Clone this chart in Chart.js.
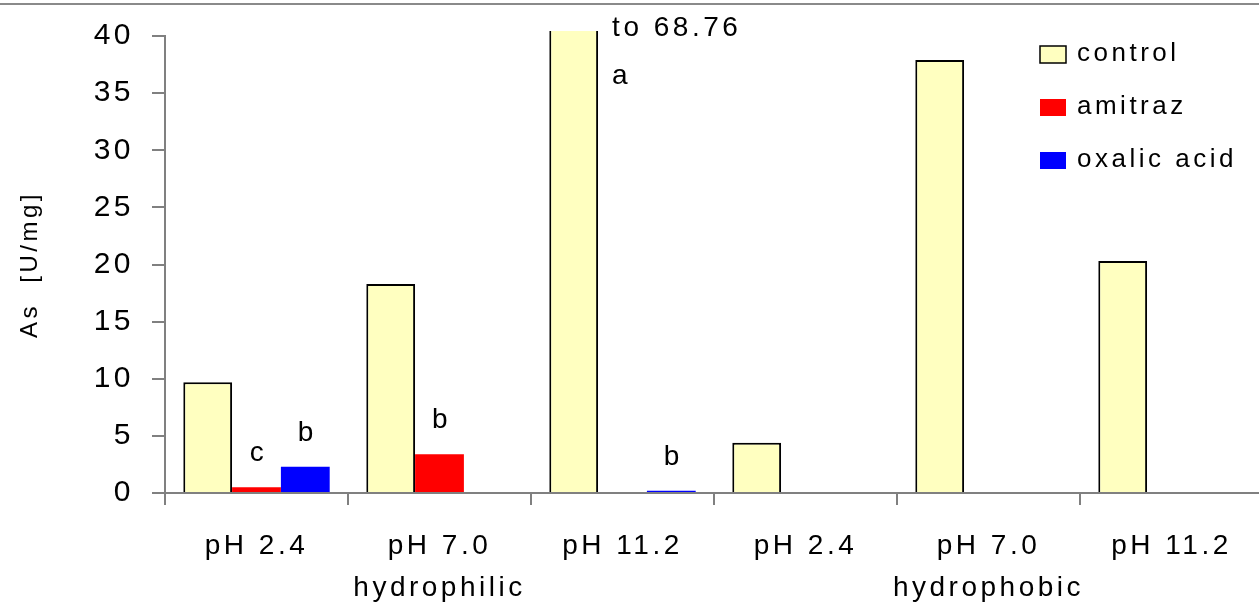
<!DOCTYPE html>
<html>
<head>
<meta charset="utf-8">
<script src="https://cdn.jsdelivr.net/npm/chart.js@4.4.0/dist/chart.umd.min.js"></script>
<style>
    html, body { margin: 0; padding: 0; background: #fff; overflow: hidden; }
    #wrap { position: relative; width: 1259px; height: 604px; overflow: hidden; }
    #grafico { position: absolute; left: 0; top: 0; }
    #lineaSup { position: absolute; left: 0; top: 3px; width: 1259px; height: 2px; background: #8a8a8a; }
</style>
</head>
<body>
<div id="wrap">
    <canvas id="grafico" width="1263" height="604"></canvas>
    <div id="lineaSup"></div>
</div>
<script>
// Datos
const phLabels = ['pH 2.4', 'pH 7.0', 'pH 11.2', 'pH 2.4', 'pH 7.0', 'pH 11.2'];
const groupLabels = ['', 'hydrophilic', '', '', 'hydrophobic', ''];
const seriesNames = ['control', 'amitraz', 'oxalic acid'];
const controlValues = [9.7, 18.3, 68.76, 4.4, 37.9, 20.3];
const amitrazValues = [0.5, 3.4, 0, 0, 0, 0];
const oxalicValues = [2.3, 0, 0.2, 0, 0, 0];
const controlLetters = ['', '', 'a', '', '', ''];
const amitrazLetters = ['c', 'b', '', '', '', ''];
const oxalicLetters = ['b', '', 'b', '', '', ''];
const yTicks = [0, 5, 10, 15, 20, 25, 30, 35, 40];

const FUENTE = '"Liberation Sans", Arial, sans-serif';
const ESPACIADO = '3.5px';
const yMax = yTicks[yTicks.length - 1];

// El texto del original es más ancho: espaciado de letras para todo el canvas
const espaciadoPlugin = {
    id: 'espaciado',
    beforeDraw(chart) {
        chart.ctx.letterSpacing = ESPACIADO;
    }
};

// Letras sobre las barras
const letrasPlugin = {
    id: 'letras',
    afterDatasetsDraw(chart) {
        const ctx = chart.ctx;
        const area = chart.chartArea;
        ctx.save();
        ctx.font = '28px ' + FUENTE;
        ctx.fillStyle = '#000';
        ctx.letterSpacing = ESPACIADO;
        ctx.textBaseline = 'alphabetic';
        chart.data.datasets.forEach((ds, i) => {
            const meta = chart.getDatasetMeta(i);
            ds.letters.forEach((letra, j) => {
                if (!letra) return;
                const bar = meta.data[j];
                if (ds.data[j] > yMax) {
                    // barra cortada: se indica el valor real
                    ctx.textAlign = 'left';
                    const x = bar.x + bar.width / 2 + 14;
                    ctx.fillText('to ' + ds.data[j], x, area.top);
                    ctx.fillText(letra, x, area.top + 48);
                } else {
                    ctx.textAlign = 'center';
                    ctx.fillText(letra, bar.x + 2, bar.y - 26);
                }
            });
        });
        ctx.restore();
    }
};

// Leyenda dibujada a mano
const leyendaPlugin = {
    id: 'leyenda',
    afterDraw(chart) {
        const ctx = chart.ctx;
        const top = chart.chartArea.top;
        ctx.save();
        ctx.font = '26px ' + FUENTE;
        ctx.letterSpacing = ESPACIADO;
        ctx.textAlign = 'left';
        ctx.textBaseline = 'middle';
        chart.data.datasets.forEach((ds, i) => {
            const cy = top + 18 + i * 53;
            ctx.fillStyle = ds.backgroundColor;
            ctx.fillRect(1040, cy - 8, 26, 17);
            if (ds.borderWidth) {
                ctx.strokeStyle = '#000';
                ctx.lineWidth = 1.5;
                ctx.strokeRect(1040, cy - 8, 26, 17);
            }
            ctx.fillStyle = '#000';
            ctx.fillText(ds.label, 1077, cy);
        });
        ctx.restore();
    }
};

function serie(nombre, valores, letras, color, borde) {
    return {
        label: nombre,
        data: valores,
        letters: letras,
        backgroundColor: color,
        borderColor: '#000',
        borderWidth: borde,
        borderSkipped: 'start',
        clip: { left: false, top: 5, right: false, bottom: 0 }
    };
}

const ctx = document.getElementById('grafico').getContext('2d');
new Chart(ctx, {
    type: 'bar',
    data: {
        labels: phLabels.map((ph, i) => [ph, groupLabels[i]]),
        datasets: [
            serie(seriesNames[0], controlValues, controlLetters, '#ffffc0', 2),
            serie(seriesNames[1], amitrazValues, amitrazLetters, '#ff0000', 0),
            serie(seriesNames[2], oxalicValues, oxalicLetters, '#0000ff', 0)
        ]
    },
    options: {
        responsive: false,
        animation: false,
        devicePixelRatio: 1,
        datasets: {
            bar: { categoryPercentage: 0.8, barPercentage: 1.0 }
        },
        layout: { padding: { top: 30, right: 0, left: 0, bottom: 0 } },
        plugins: {
            legend: { display: false },
            tooltip: { enabled: false }
        },
        scales: {
            x: {
                offset: true,
                grid: {
                    offset: true,
                    drawOnChartArea: false,
                    tickLength: 12,
                    color: '#808080',
                    lineWidth: 2
                },
                border: { color: '#808080', width: 2 },
                ticks: {
                    color: '#000',
                    padding: 20,
                    maxRotation: 0,
                    autoSkip: false,
                    font: { family: FUENTE, size: 28, lineHeight: 1.5 }
                },
                afterFit(scale) { scale.height = 111; }
            },
            y: {
                min: 0,
                max: yMax,
                afterBuildTicks(scale) { scale.ticks = yTicks.map(v => ({ value: v })); },
                grid: {
                    drawOnChartArea: false,
                    tickLength: 13,
                    color: '#808080',
                    lineWidth: 2
                },
                border: { color: '#808080', width: 2 },
                ticks: {
                    color: '#000',
                    padding: 18,
                    font: { family: FUENTE, size: 30 }
                },
                title: {
                    display: true,
                    text: 'As  [U/mg]',
                    color: '#000',
                    padding: { top: 16, bottom: 0 },
                    font: { family: FUENTE, size: 24 }
                },
                afterFit(scale) { scale.width = 165; }
            }
        }
    },
    plugins: [espaciadoPlugin, letrasPlugin, leyendaPlugin]
});
</script>
</body>
</html>
